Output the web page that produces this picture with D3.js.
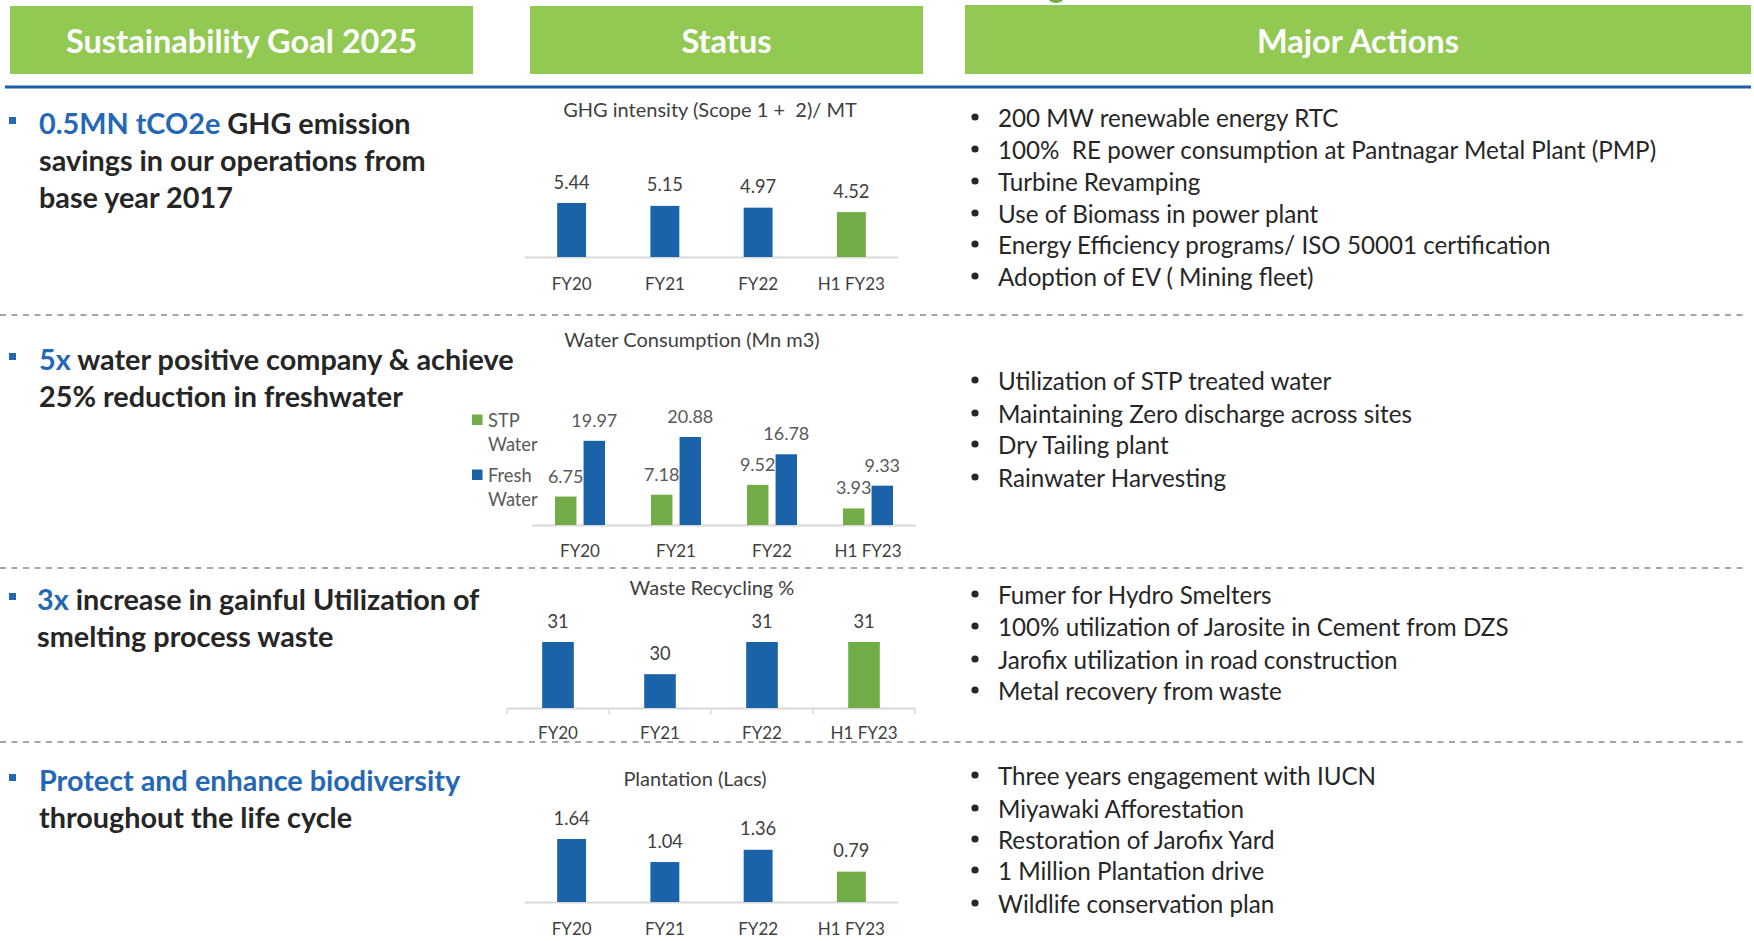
<!DOCTYPE html>
<html>
<head>
<meta charset="utf-8">
<script src="https://cdn.jsdelivr.net/npm/d3@7"></script>
<style>
  html, body { margin: 0; padding: 0; background: #ffffff; }
  svg { display: block; font-family: Lato, "Open Sans", sans-serif; }
  svg text { white-space: pre; }
</style>
</head>
<body>
<svg id="chart" width="1754" height="941"></svg>
<script>
// ---------------- DATA ----------------
const categories = ["FY20", "FY21", "FY22", "H1 FY23"];
const ghgValues = [5.44, 5.15, 4.97, 4.52];
const stpWaterValues = [6.75, 7.18, 9.52, 3.93];
const freshWaterValues = [19.97, 20.88, 16.78, 9.33];
const wasteValues = [31, 30, 31, 31];
const plantationValues = [1.64, 1.04, 1.36, 0.79];
const waterSeries = ["STP Water", "Fresh Water"];

const headerTitles = ["Sustainability Goal 2025", "Status", "Major Actions"];
const chartTitles = ["GHG intensity (Scope 1 +  2)/ MT", "Water Consumption (Mn m3)", "Waste Recycling %", "Plantation (Lacs)"];

const goalLines = [
  [[["0.5MN tCO2e", true], [" GHG emission", false]], [["savings in our operations from", false]], [["base year 2017", false]]],
  [[["5x", true], [" water positive company & achieve", false]], [["25% reduction in freshwater", false]]],
  [[["3x", true], [" increase in gainful Utilization of", false]], [["smelting process waste", false]]],
  [[["Protect and enhance biodiversity", true]], [["throughout the life cycle", false]]]
];

const actionLists = [
  ["200 MW renewable energy RTC", "100%  RE power consumption at Pantnagar Metal Plant (PMP)", "Turbine Revamping",
   "Use of Biomass in power plant", "Energy Efficiency programs/ ISO 50001 certification", "Adoption of EV ( Mining fleet)"],
  ["Utilization of STP treated water", "Maintaining Zero discharge across sites", "Dry Tailing plant", "Rainwater Harvesting"],
  ["Fumer for Hydro Smelters", "100% utilization of Jarosite in Cement from DZS", "Jarofix utilization in road construction", "Metal recovery from waste"],
  ["Three years engagement with IUCN", "Miyawaki Afforestation", "Restoration of Jarofix Yard", "1 Million Plantation drive", "Wildlife conservation plan"]
];

// ---------------- STYLE ----------------
const C = {
  headerGreen: "#92C953",
  barBlue: "#1B63A8",
  barGreen: "#70AD47",
  accentBlue: "#2468B5",
  rule: "#1F5FA8",
  dash: "#A6A6A6",
  text: "#262626",
  label: "#404040",
  gray: "#595959",
  axis: "#D9D9D9"
};

const svg = d3.select("#chart");

// small green shape peeking at top
svg.append("ellipse").attr("cx", 1056).attr("cy", -3).attr("rx", 8).attr("ry", 6).attr("fill", "#70AD47");

// ---------------- HEADERS ----------------
const headerBoxes = [
  { x: 10, y: 6, w: 463, h: 68 },
  { x: 530, y: 6, w: 393, h: 68 },
  { x: 965, y: 5, w: 786, h: 69 }
];
headerBoxes.forEach((b, i) => {
  svg.append("rect").attr("x", b.x).attr("y", b.y).attr("width", b.w).attr("height", b.h).attr("fill", C.headerGreen);
  svg.append("text").attr("x", b.x + b.w / 2).attr("y", 40.5)
    .attr("text-anchor", "middle").attr("dominant-baseline", "central")
    .attr("fill", "#fff").attr("font-weight", 700).attr("font-size", 32.5)
    .text(headerTitles[i]);
});

// blue rule
svg.append("rect").attr("x", 5).attr("y", 85.5).attr("width", 1746).attr("height", 3).attr("fill", C.rule);

// dashed separators
[315, 568, 742].forEach(y => {
  svg.append("line").attr("x1", 0).attr("x2", 1748).attr("y1", y).attr("y2", y)
    .attr("stroke", C.dash).attr("stroke-width", 2).attr("stroke-dasharray", "6 5.5");
});

// ---------------- GOALS ----------------
const goalLayout = [
  { x: 39, ys: [123, 160, 197] },
  { x: 39, ys: [359, 396] },
  { x: 37, ys: [599, 636] },
  { x: 39, ys: [780, 817] }
];
goalLines.forEach((lines, gi) => {
  const L = goalLayout[gi];
  svg.append("rect").attr("x", 9).attr("y", L.ys[0] - 6).attr("width", 7).attr("height", 7).attr("fill", C.accentBlue);
  lines.forEach((segs, li) => {
    const t = svg.append("text").attr("x", L.x).attr("y", L.ys[li]).attr("dominant-baseline", "central")
      .attr("font-weight", 700).attr("font-size", 28.8).attr("fill", C.text);
    segs.forEach(([s, blue]) => t.append("tspan").attr("fill", blue ? C.accentBlue : C.text).text(s));
  });
});

// ---------------- ACTIONS ----------------
const actionYs = [
  [117, 149, 181, 213, 244, 276],
  [380, 413, 444, 477],
  [594, 626, 659, 690],
  [775, 808, 839, 870, 903]
];
actionLists.forEach((list, ai) => {
  list.forEach((s, i) => {
    const y = actionYs[ai][i];
    svg.append("circle").attr("cx", 975).attr("cy", y).attr("r", 3.6).attr("fill", C.text);
    svg.append("text").attr("x", 998).attr("y", y).attr("dominant-baseline", "central")
      .attr("font-size", 24.2).attr("fill", C.text).text(s);
  });
});

// ---------------- CHART HELPERS ----------------
function chartTitle(t, x, y) {
  svg.append("text").attr("x", x).attr("y", y).attr("text-anchor", "middle").attr("dominant-baseline", "central")
    .attr("font-size", 20).attr("fill", C.label).text(t);
}
function categoryAxis(x, baseline, labelOffset, withTicks) {
  const g = svg.append("g").attr("transform", `translate(0,${baseline})`);
  const r = x.range();
  g.append("line").attr("x1", r[0]).attr("x2", r[1]).attr("y1", 0.5).attr("y2", 0.5)
    .attr("stroke", C.axis).attr("stroke-width", 2);
  if (withTicks) {
    const bounds = x.domain().map(d => x(d)).concat([r[1]]);
    g.selectAll("line.tk").data(bounds).join("line").attr("class", "tk")
      .attr("x1", d => d).attr("x2", d => d).attr("y1", 0).attr("y2", 6)
      .attr("stroke", C.axis).attr("stroke-width", 1.5);
  }
  const ax = g.append("g").call(d3.axisBottom(x).tickSize(0).tickPadding(0));
  ax.select(".domain").remove();
  ax.selectAll("text").attr("y", labelOffset).attr("dy", null).attr("dominant-baseline", "central")
    .attr("font-size", 17).attr("font-family", "Lato, sans-serif").attr("fill", C.label);
}
function simpleBars(values, x, y, baseline, frac, labelColor) {
  const bw = x.bandwidth() * frac;
  const data = categories.map((c, i) => ({ c, v: values[i], last: i === categories.length - 1 }));
  svg.append("g").selectAll("rect").data(data).join("rect")
    .attr("x", d => x(d.c) + x.bandwidth() / 2 - bw / 2)
    .attr("y", d => y(d.v)).attr("width", bw).attr("height", d => baseline - y(d.v))
    .attr("fill", d => d.last ? C.barGreen : C.barBlue);
  svg.append("g").selectAll("text").data(data).join("text")
    .attr("x", d => x(d.c) + x.bandwidth() / 2).attr("y", d => y(d.v) - 21.5)
    .attr("text-anchor", "middle").attr("dominant-baseline", "central")
    .attr("font-size", 18.3).attr("fill", labelColor).text(d => d.v);
}

// ---------------- CHART 1: GHG ----------------
{
  const baseline = 257;
  const x = d3.scaleBand().domain(categories).range([525, 898]).padding(0);
  const y = d3.scaleLinear().domain([0, 5.44]).range([baseline, 203]);
  chartTitle(chartTitles[0], 710, 109);
  categoryAxis(x, baseline, 26, false);
  simpleBars(ghgValues, x, y, baseline, 0.31, C.label);
}

// ---------------- CHART 2: WATER ----------------
{
  const baseline = 525;
  const x = d3.scaleBand().domain(categories).range([532, 916]).padding(0);
  const xs = d3.scaleBand().domain(waterSeries).range([-25, 25]).paddingInner(0.25);
  const y = d3.scaleLinear().domain([0, 20.88]).range([baseline, 437]);
  chartTitle(chartTitles[1], 692, 339);
  categoryAxis(x, baseline, 25, false);
  const seriesVals = { "STP Water": stpWaterValues, "Fresh Water": freshWaterValues };
  const seriesCol = { "STP Water": C.barGreen, "Fresh Water": C.barBlue };
  const data = [];
  categories.forEach((c, i) => waterSeries.forEach(s => data.push({ c, s, v: seriesVals[s][i] })));
  const cx = d => x(d.c) + x.bandwidth() / 2 + xs(d.s) + xs.bandwidth() / 2;
  svg.append("g").selectAll("rect").data(data).join("rect")
    .attr("x", d => cx(d) - xs.bandwidth() / 2).attr("y", d => y(d.v))
    .attr("width", xs.bandwidth()).attr("height", d => baseline - y(d.v))
    .attr("fill", d => seriesCol[d.s]);
  svg.append("g").selectAll("text").data(data).join("text")
    .attr("x", cx).attr("y", d => y(d.v) - 21)
    .attr("text-anchor", "middle").attr("dominant-baseline", "central")
    .attr("font-size", 18).attr("fill", C.gray).text(d => d.v.toFixed(2));
  // legend
  const legendY = [[420, 444], [475, 499]];
  waterSeries.forEach((s, i) => {
    const parts = s.split(" ");
    svg.append("rect").attr("x", 472).attr("y", legendY[i][0] - 5.5).attr("width", 10.5).attr("height", 10.5).attr("fill", seriesCol[s]);
    parts.forEach((p, j) => {
      svg.append("text").attr("x", 488).attr("y", legendY[i][j]).attr("dominant-baseline", "central")
        .attr("font-size", 18.3).attr("fill", C.gray).text(p);
    });
  });
}

// ---------------- CHART 3: WASTE ----------------
{
  const baseline = 708;
  const x = d3.scaleBand().domain(categories).range([507, 915]).padding(0);
  const y = d3.scaleLinear().domain([28.95, 31]).range([baseline, 642]);
  chartTitle(chartTitles[2], 712, 587);
  categoryAxis(x, baseline, 24, true);
  simpleBars(wasteValues, x, y, baseline, 0.31, C.label);
}

// ---------------- CHART 4: PLANTATION ----------------
{
  const baseline = 902;
  const x = d3.scaleBand().domain(categories).range([525, 898]).padding(0);
  const y = d3.scaleLinear().domain([0, 1.64]).range([baseline, 839]);
  chartTitle(chartTitles[3], 695, 778);
  categoryAxis(x, baseline, 26, false);
  simpleBars(plantationValues, x, y, baseline, 0.31, C.label);
}
</script>
</body>
</html>
